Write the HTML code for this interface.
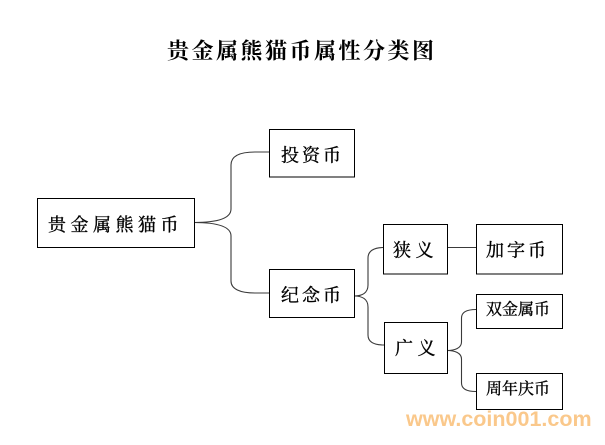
<!DOCTYPE html>
<html>
<head>
<meta charset="utf-8">
<style>
  html,body{margin:0;padding:0;background:#fff;}
  body{width:605px;height:445px;overflow:hidden;}
  svg{display:block;}
  .t{font-family:"Liberation Serif","Noto Serif CJK SC","Noto Sans CJK SC",serif;fill:#000;stroke:#000;stroke-width:0.35;}
</style>
</head>
<body>
<svg width="605" height="445" viewBox="0 0 605 445" xmlns="http://www.w3.org/2000/svg">
  <rect x="0" y="0" width="605" height="445" fill="#fff"/>

  <!-- Title -->
  <text x="167" y="51" font-family="'Liberation Serif','Noto Serif CJK SC','Noto Sans CJK SC',serif" font-size="22" font-weight="bold" letter-spacing="2.5" dominant-baseline="central" fill="#000">贵金属熊猫币属性分类图</text>

  <!-- Connectors -->
  <g fill="none" stroke="#3a3a3a" stroke-width="1.1">
    <path d="M194,222.5 C216,222.5 231,219 231,209 L231,165 C231,156 240,152 255,152 L269,152"/>
    <path d="M194,222.5 C216,222.5 231,226 231,236 L231,281 C231,289 240,293 255,293 L269,293"/>
    <path d="M354,296 C362,296 368,293 368,285 L368,258 C368,251 374,247.5 383,247.5"/>
    <path d="M354,296 C362,296 368,299 368,307 L368,335 C368,342 374,345 384,345"/>
    <path d="M447,247.5 L476,247.5"/>
    <path d="M447,350.5 C455,350.5 461.5,348 461.5,342 L461.5,318 C461.5,312 467,309.5 476,309.5"/>
    <path d="M447,350.5 C455,350.5 461.5,353 461.5,359 L461.5,383 C461.5,389 467,391.5 476,391.5"/>
  </g>

  <!-- Boxes -->
  <g fill="#fff" stroke="#000" stroke-width="1">
    <rect x="37.5" y="198.5" width="157" height="49"/>
    <rect x="269.5" y="129.5" width="85" height="47.5"/>
    <rect x="269.5" y="269.5" width="85" height="48"/>
    <rect x="383.5" y="224.5" width="64" height="49.5"/>
    <rect x="476.5" y="224.5" width="86" height="49.5"/>
    <rect x="476.5" y="294.5" width="86" height="34"/>
    <rect x="384.5" y="322.5" width="63" height="51"/>
    <rect x="476.5" y="373.5" width="86" height="36"/>
  </g>

  <!-- Box labels -->
  <text class="t" x="48" y="225" font-size="18" letter-spacing="4.5" dominant-baseline="central">贵金属熊猫币</text>
  <text class="t" x="281" y="155.5" font-size="18" letter-spacing="3" dominant-baseline="central">投资币</text>
  <text class="t" x="281" y="295.5" font-size="18" letter-spacing="3" dominant-baseline="central">纪念币</text>
  <text class="t" x="393" y="250.5" font-size="18" letter-spacing="4.5" dominant-baseline="central">狭义</text>
  <text class="t" x="486" y="250.5" font-size="18" letter-spacing="3" dominant-baseline="central">加字币</text>
  <text class="t" x="395" y="348.5" font-size="18" letter-spacing="4.5" dominant-baseline="central">广义</text>
  <text class="t" x="486" y="310" font-size="16" dominant-baseline="central">双金属币</text>
  <text class="t" x="486" y="389.5" font-size="16" dominant-baseline="central">周年庆币</text>

  <!-- Watermark -->
  <text x="406" y="426" font-family="'Liberation Sans', Arial, sans-serif" font-size="21.5" font-weight="bold" fill="#f9c27e" fill-opacity="0.9">www.coin001.com</text>
</svg>
</body>
</html>
